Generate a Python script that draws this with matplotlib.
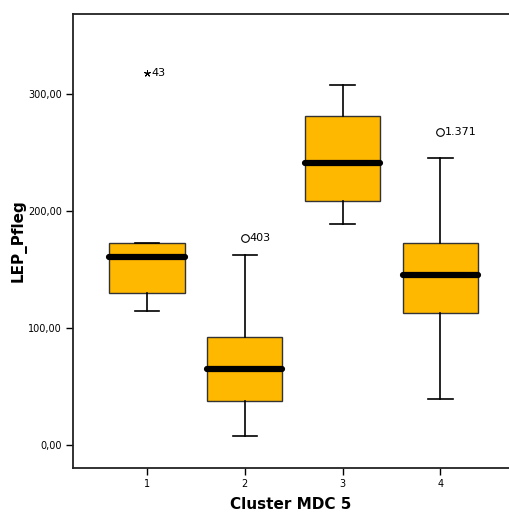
import matplotlib.pyplot as plt

# values
clusters = [1, 2, 3, 4]
whislo = [114.5, 7.7, 189.0, 39.0]
q1 = [130.0, 37.6, 208.5, 113.0]
med = [160.5, 65.0, 241.0, 145.0]
q3 = [172.0, 92.3, 281.0, 172.0]
whishi = [172.0, 162.4, 307.0, 245.0]

outlier_x = [1, 2, 4]
outlier_y = [318.0, 177.0, 267.0]
outlier_marker = ["*", "o", "o"]
outlier_label = ["43", "403", "1.371"]

ytick_vals = [0, 100, 200, 300]
ytick_labels = ["0,00", "100,00", "200,00", "300,00"]

fig = plt.figure(figsize=(5.09, 5.12), dpi=100)
ax = fig.add_axes([0.1434, 0.086, 0.8566, 0.8867])

stats = []
for i in range(len(clusters)):
    stats.append(dict(whislo=whislo[i], q1=q1[i], med=med[i], q3=q3[i],
                      whishi=whishi[i], fliers=[]))

ax.bxp(stats, positions=clusters, widths=0.77, patch_artist=True,
       boxprops=dict(facecolor="#FFB800", edgecolor="#333333", linewidth=1.0),
       medianprops=dict(color="black", linewidth=4.5, solid_capstyle="round"),
       whiskerprops=dict(color="black", linewidth=1.2),
       capprops=dict(color="black", linewidth=1.2),
       capwidths=0.25)

# outliers with case labels
for x, y, m, lab in zip(outlier_x, outlier_y, outlier_marker, outlier_label):
    if m == "*":
        ax.plot(x, y, marker=(5, 2, 0), markersize=5, color="black", mew=0.7)
    else:
        ax.plot(x, y, marker="o", markersize=5.5, markerfacecolor="none",
                markeredgecolor="black", mew=0.8)
    ax.text(x + 0.045, y, lab, fontsize=8, va="center", ha="left")

ax.set_xlim(0.245, 4.7)
ax.set_ylim(-19.7, 368)
ax.set_xticks(clusters)
ax.set_xticklabels([str(c) for c in clusters], fontsize=7)
ax.set_yticks(ytick_vals)
ax.set_yticklabels(ytick_labels, fontsize=7)
ax.tick_params(length=5, width=1, pad=3)
ax.spines["right"].set_visible(False)
for s in ["left", "bottom", "top"]:
    ax.spines[s].set_linewidth(1.3)
    ax.spines[s].set_color("#222222")

ax.set_xlabel("Cluster MDC 5", fontsize=11, fontweight="bold", labelpad=6)
ax.set_ylabel("LEP_Pfleg", fontsize=11, fontweight="bold", labelpad=1)

fig.savefig("out.png", dpi=100)
